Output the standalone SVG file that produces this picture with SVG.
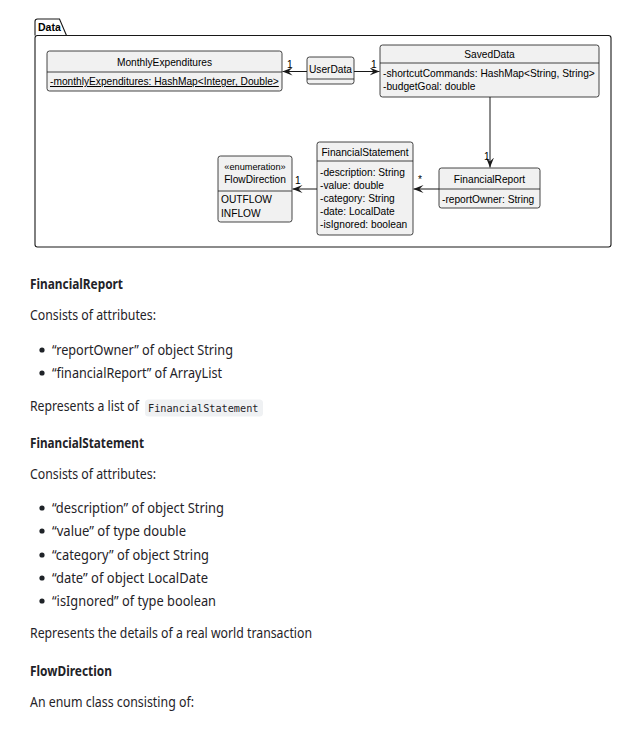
<svg xmlns="http://www.w3.org/2000/svg" width="628" height="748" viewBox="0 0 628 748">
<style>
.box{fill:#F1F1F1;stroke:#181818;stroke-width:0.8}
.sep{stroke:#181818;stroke-width:0.8}
.t{font-family:"Liberation Sans",Arial,sans-serif;font-size:10.2px;fill:#000}
.c{text-anchor:middle}
.edge{stroke:#181818;stroke-width:1;fill:none}
.md{font-family:"Noto Sans","Open Sans",sans-serif;font-size:13.8px;fill:#1f2328}
.b{font-weight:bold}
.code{font-family:"DejaVu Sans Mono","Liberation Mono",monospace;font-size:10.2px;fill:#1f2328}
</style>
<defs>
<marker id="ah" viewBox="0 0 10 8" refX="10" refY="4" markerWidth="10" markerHeight="8" markerUnits="userSpaceOnUse" orient="auto">
<path d="M0,0 L10,4 L0,8 L4,4 Z" fill="#181818"/>
</marker>
</defs>
<rect width="628" height="748" fill="#ffffff"/>

<g id="package-Data">
<path d="M35,35.5 V21.5 Q35,19 37.5,19 H59.5 L66.5,35.5" fill="none" stroke="#181818" stroke-width="1.1"/>
<rect x="35" y="35.5" width="576" height="211.5" rx="2.5" fill="none" stroke="#181818" stroke-width="1.1"/>
<text x="38" y="31" class="t b" style="font-size:10.5px">Data</text>
</g>

<g id="MonthlyExpenditures">
<rect class="box" x="47" y="51" width="235" height="40" rx="2.5"/>
<line class="sep" x1="47" y1="72" x2="282" y2="72"/>
<text class="t c" x="164.5" y="66">MonthlyExpenditures</text>
<text class="t" x="50" y="85" text-decoration="underline">-monthlyExpenditures: HashMap&lt;Integer, Double&gt;</text>
</g>

<g id="UserData">
<rect class="box" x="307" y="57" width="47" height="27" rx="2.5"/>
<line class="sep" x1="307" y1="79" x2="354" y2="79"/>
<text class="t c" x="330.5" y="73">UserData</text>
</g>

<g id="SavedData">
<rect class="box" x="380" y="45" width="219" height="52" rx="2.5"/>
<line class="sep" x1="380" y1="63" x2="599" y2="63"/>
<text class="t c" x="489.5" y="58">SavedData</text>
<text class="t" x="383" y="77">-shortcutCommands: HashMap&lt;String, String&gt;</text>
<text class="t" x="383" y="90">-budgetGoal: double</text>
</g>

<g id="FinancialReport">
<rect class="box" x="439" y="168" width="101" height="40" rx="2.5"/>
<line class="sep" x1="439" y1="189" x2="540" y2="189"/>
<text class="t c" x="489.5" y="183">FinancialReport</text>
<text class="t" x="442" y="203">-reportOwner: String</text>
</g>

<g id="FinancialStatement">
<rect class="box" x="317" y="142" width="96" height="93" rx="2.5"/>
<line class="sep" x1="317" y1="161" x2="413" y2="161"/>
<text class="t c" x="365" y="156">FinancialStatement</text>
<text class="t" x="320" y="176">-description: String</text>
<text class="t" x="320" y="189">-value: double</text>
<text class="t" x="320" y="202">-category: String</text>
<text class="t" x="320" y="215">-date: LocalDate</text>
<text class="t" x="320" y="228">-isIgnored: boolean</text>
</g>

<g id="FlowDirection">
<rect class="box" x="218" y="156" width="74" height="66" rx="2.5"/>
<line class="sep" x1="218" y1="191" x2="292" y2="191"/>
<text class="t c" x="255" y="170" style="font-size:9.2px">«enumeration»</text>
<text class="t c" x="255" y="183">FlowDirection</text>
<text class="t" x="221" y="203">OUTFLOW</text>
<text class="t" x="221" y="217">INFLOW</text>
</g>

<g id="connectors">
<line class="edge" x1="307" y1="71.5" x2="282.5" y2="71.5" marker-end="url(#ah)"/>
<text class="t" x="287" y="68">1</text>
<line class="edge" x1="354" y1="71.5" x2="379.5" y2="71.5" marker-end="url(#ah)"/>
<text class="t" x="371" y="68">1</text>
<line class="edge" x1="490" y1="97" x2="490" y2="167.5" marker-end="url(#ah)"/>
<text class="t" x="484" y="160">1</text>
<line class="edge" x1="439" y1="189" x2="413.5" y2="189" marker-end="url(#ah)"/>
<text class="t" x="418" y="183">*</text>
<line class="edge" x1="317" y1="189" x2="292.5" y2="189" marker-end="url(#ah)"/>
<text class="t" x="295" y="184">1</text>
</g>

<g id="text">
<text class="md b" x="30" y="289" textLength="93" lengthAdjust="spacingAndGlyphs">FinancialReport</text>
<text class="md" x="30" y="320" textLength="126" lengthAdjust="spacingAndGlyphs">Consists of attributes:</text>
<circle cx="42" cy="350" r="2.6" fill="#1f2328"/>
<text class="md" x="52" y="355" textLength="181" lengthAdjust="spacingAndGlyphs">“reportOwner” of object String</text>
<circle cx="42" cy="373" r="2.6" fill="#1f2328"/>
<text class="md" x="52" y="378" textLength="170" lengthAdjust="spacingAndGlyphs">“financialReport” of ArrayList</text>
<text class="md" x="30" y="411" textLength="109" lengthAdjust="spacingAndGlyphs">Represents a list of</text>
<rect x="145" y="399.5" width="118" height="17" rx="3.5" fill="#eff1f3"/>
<text class="code" x="148" y="411.5">FinancialStatement</text>

<text class="md b" x="30" y="448" textLength="114" lengthAdjust="spacingAndGlyphs">FinancialStatement</text>
<text class="md" x="30" y="479" textLength="126" lengthAdjust="spacingAndGlyphs">Consists of attributes:</text>
<circle cx="42" cy="508" r="2.6" fill="#1f2328"/>
<text class="md" x="52" y="513" textLength="172" lengthAdjust="spacingAndGlyphs">“description” of object String</text>
<circle cx="42" cy="531" r="2.6" fill="#1f2328"/>
<text class="md" x="52" y="536" textLength="134" lengthAdjust="spacingAndGlyphs">“value” of type double</text>
<circle cx="42" cy="555" r="2.6" fill="#1f2328"/>
<text class="md" x="52" y="560" textLength="157" lengthAdjust="spacingAndGlyphs">“category” of object String</text>
<circle cx="42" cy="578" r="2.6" fill="#1f2328"/>
<text class="md" x="52" y="583" textLength="156" lengthAdjust="spacingAndGlyphs">“date” of object LocalDate</text>
<circle cx="42" cy="601" r="2.6" fill="#1f2328"/>
<text class="md" x="52" y="606" textLength="164" lengthAdjust="spacingAndGlyphs">“isIgnored” of type boolean</text>
<text class="md" x="30" y="638" textLength="282" lengthAdjust="spacingAndGlyphs">Represents the details of a real world transaction</text>

<text class="md b" x="30" y="676" textLength="82" lengthAdjust="spacingAndGlyphs">FlowDirection</text>
<text class="md" x="30" y="707" textLength="164" lengthAdjust="spacingAndGlyphs">An enum class consisting of:</text>
</g>
</svg>
